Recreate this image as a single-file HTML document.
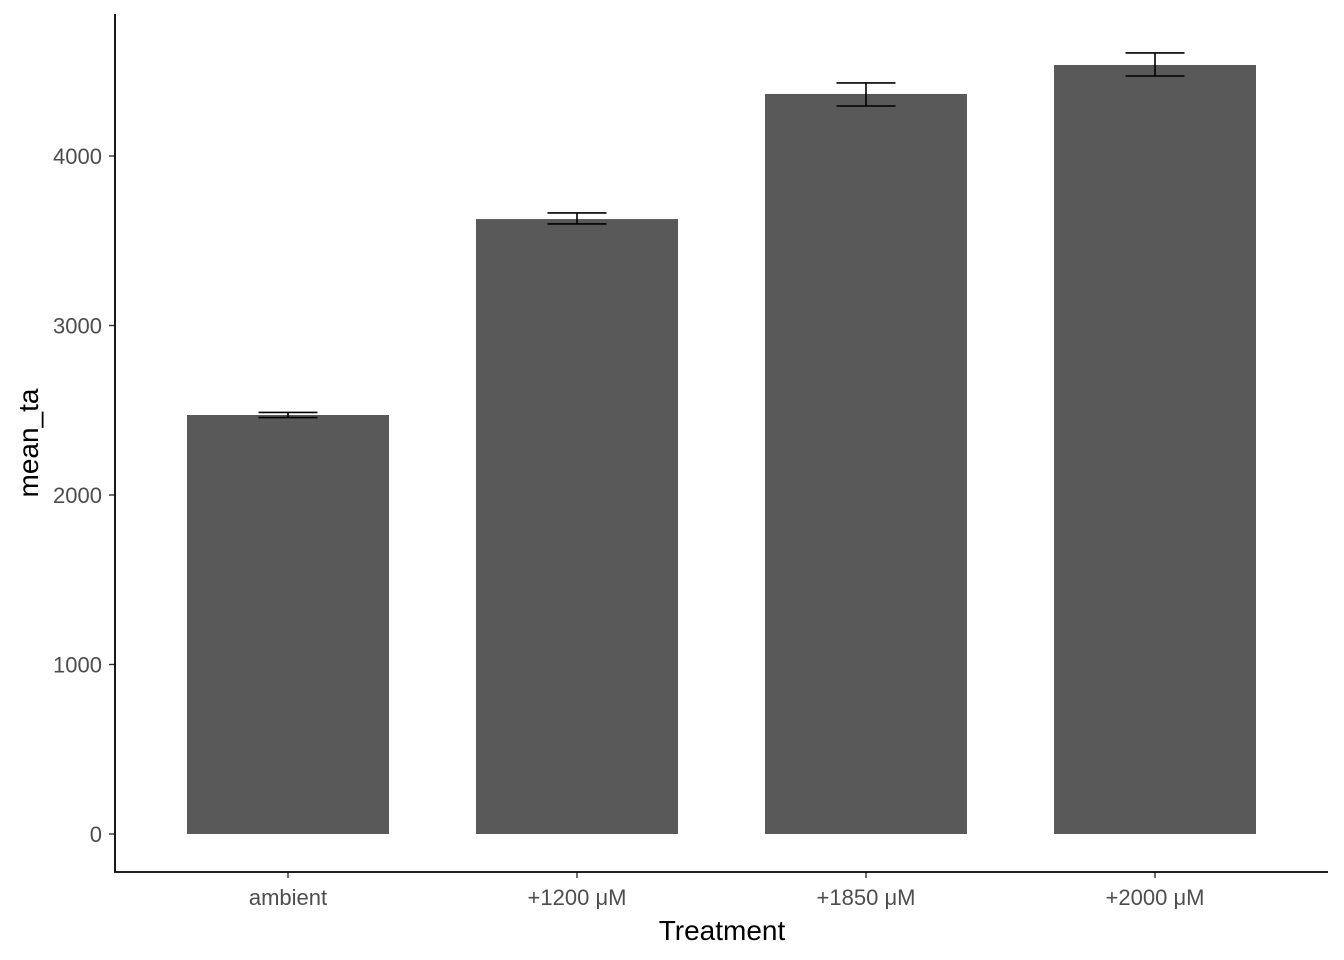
<!DOCTYPE html>
<html><head><meta charset="utf-8"><style>
body{margin:0;background:#fff;}
svg{display:block;font-family:"Liberation Sans",sans-serif;}
</style></head><body>
<svg id="chart" width="1344" height="960">
</svg>
<script>
const categories=["ambient","+1200 μM","+1850 μM","+2000 μM"];
const means=[2472,3628,4366,4537];
const errLow=[2457,3599,4295,4472];
const errHigh=[2487,3664,4431,4608];
const yTicks=[0,1000,2000,3000,4000];

const svg=document.getElementById('chart');
const NS='http://www.w3.org/2000/svg';
const band=289,firstCenter=288;
function xs(i){return firstCenter+i*band;}
function ys(v){return 834-v*0.1695;}
function mk(t,a,txt){const e=document.createElementNS(NS,t);for(const k in a)e.setAttribute(k,a[k]);if(txt!=null)e.textContent=txt;svg.appendChild(e);return e;}
const bw=202,ew=59;
categories.forEach((c,i)=>{
  const cx=xs(i);
  const b=mk('rect',{x:cx-bw/2,y:ys(means[i]),width:bw,height:ys(0)-ys(means[i]),fill:'#595959'});
  
  
  const g=mk('path',{d:`M${cx-ew/2},${ys(errHigh[i])}H${cx+ew/2}M${cx},${ys(errHigh[i])}V${ys(errLow[i])}M${cx-ew/2},${ys(errLow[i])}H${cx+ew/2}`,stroke:'#000','stroke-width':1.6,fill:'none'});
  
  
  const t=mk('line',{x1:cx,x2:cx,y1:872,y2:878,stroke:'#333','stroke-width':1.4});
  
  
  const l=mk('text',{x:cx,y:905,'text-anchor':'middle','font-size':22,fill:'#4d4d4d'},c);
  
  
});
yTicks.forEach(v=>{
  const t=mk('line',{x1:109,x2:115,y1:ys(v),y2:ys(v),stroke:'#333','stroke-width':1.4});
  
  
  const l=mk('text',{x:102,y:ys(v)+8,'text-anchor':'end','font-size':22,fill:'#4d4d4d'},v);
  
  
});
const ax=mk('path',{d:'M115,14V872H1328',stroke:'#000','stroke-width':1.8,fill:'none'});


const xt=mk('text',{x:722,y:940,'text-anchor':'middle','font-size':28,fill:'#000'},'Treatment');


const yt=mk('text',{x:0,y:0,'text-anchor':'middle','font-size':28,fill:'#000',transform:'translate(38,443) rotate(-90)'},'mean_ta');


</script>
</body></html>
